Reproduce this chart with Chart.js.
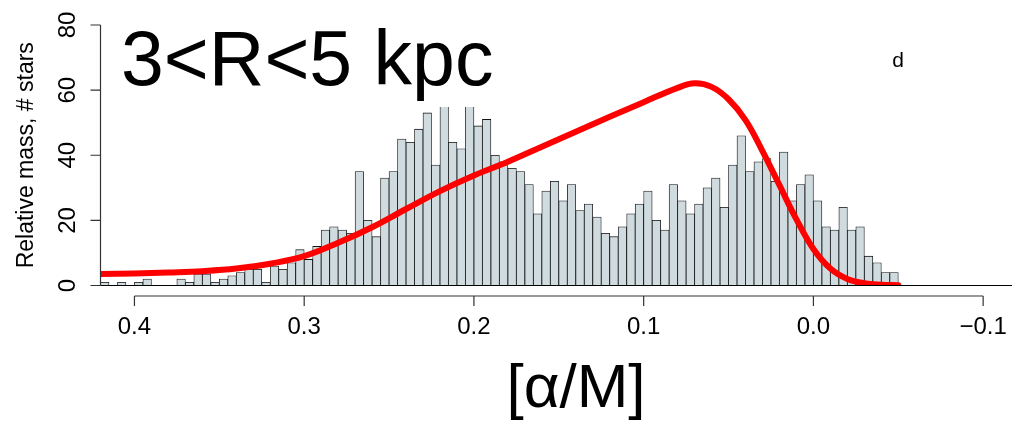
<!DOCTYPE html>
<html lang="en">
<head>
    <meta charset="UTF-8">
    <title>[α/M] histogram, 3&lt;R&lt;5 kpc</title>
    <script src="https://cdn.jsdelivr.net/npm/chart.js"></script>
    <style>
        html, body { margin: 0; padding: 0; background: #fff; }
        #wrap { width: 1012px; height: 422px; }
    </style>
</head>
<body>
    <div id="wrap"><canvas id="alphaChart"></canvas></div>
    <script>
        // histogram: 94 bins of 0.005 in [α/M], from 0.42 down to -0.05
        const binStart = 0.42;
        const binWidth = 0.005;
        const binHeights = [
            1, 0, 1, 0, 1, 2, 0, 0, 0, 2,
            1, 3.5, 3.5, 1, 2, 3, 4, 5, 5, 1,
            6, 5, 7, 11, 8, 12, 17, 18, 17, 16,
            35, 20, 15, 33, 35, 45, 44, 48, 53, 37,
            58, 44, 42, 57, 49, 51, 40, 38, 36, 35,
            31, 22, 29, 32, 26, 31, 23, 25, 21, 16,
            15, 18, 22, 25, 29, 20, 17, 31, 26, 22,
            25, 30, 33, 24, 37, 46, 35, 38, 39, 32,
            41, 26, 31, 34, 26, 18, 17, 24, 17, 18,
            9, 7, 4, 4
        ];

        // red model curve (relative mass)
        const curveAlpha = [0.42, 0.40, 0.38, 0.36, 0.34, 0.32, 0.30, 0.28, 0.26, 0.24,
                            0.22, 0.20, 0.18, 0.16, 0.14, 0.12, 0.10, 0.08, 0.07, 0.06,
                            0.05, 0.04, 0.03, 0.02, 0.01, 0.00, -0.01, -0.02, -0.03, -0.04, -0.05];
        const curveMass = [3.5, 3.7, 4.0, 4.4, 5.2, 6.7, 9.0, 13.1, 17.9, 23.5,
                           29.0, 33.8, 38.0, 42.6, 47.2, 51.8, 56.3, 60.7, 62.1, 61.0,
                           57.2, 50.8, 41.3, 30.8, 20.3, 11.2, 5.2, 2.0, 0.7, 0.25, 0.1];

        const xTicks = [0.4, 0.3, 0.2, 0.1, 0.0, -0.1];
        const yTicks = [0, 20, 40, 60, 80];

        const panelLabel = '3<R<5 kpc';
        const panelLetter = 'd';
        const xTitle = '[α/M]';
        const yTitle = 'Relative mass, # stars';

        const FONT = '"Liberation Sans", Helvetica, Arial, sans-serif';

        const histData = binHeights.map((h, i) => ({ x: binStart - binWidth * (i + 0.5), y: h }));
        const curveData = curveAlpha.map((a, i) => ({ x: a, y: curveMass[i] }));

        function tickText(v) {
            const s = Math.abs(v).toFixed(1);
            return v < 0 ? '\u2212' + s : s;
        }

        // R-style axes, labels and the white legend box
        const decorations = {
            id: 'decorations',
            afterDatasetsDraw(chart) {
                const { ctx, chartArea, scales: { x, y } } = chart;
                ctx.save();

                ctx.fillStyle = '#fff';
                ctx.fillRect(chartArea.left + 1.5, 0, 410, 107);

                ctx.fillStyle = '#000';
                ctx.textBaseline = 'alphabetic';
                ctx.textAlign = 'left';
                ctx.font = '77px ' + FONT;
                ctx.fillText(panelLabel, 121, 85);

                ctx.textAlign = 'center';
                ctx.font = '21px ' + FONT;
                ctx.fillText(panelLetter, 898, 67);

                // baseline of the histogram
                const y0 = y.getPixelForValue(0);
                ctx.strokeStyle = '#000';
                ctx.lineWidth = 1;
                ctx.beginPath();
                ctx.moveTo(chartArea.left, y0);
                ctx.lineTo(chartArea.right, y0);
                ctx.stroke();

                // x axis
                const axY = 296;
                ctx.strokeStyle = '#333';
                ctx.lineWidth = 1.2;
                ctx.beginPath();
                ctx.moveTo(x.getPixelForValue(xTicks[0]), axY);
                ctx.lineTo(x.getPixelForValue(xTicks[xTicks.length - 1]), axY);
                xTicks.forEach(v => {
                    const px = x.getPixelForValue(v);
                    ctx.moveTo(px, axY);
                    ctx.lineTo(px, axY + 10);
                });
                ctx.stroke();

                ctx.font = '24px ' + FONT;
                ctx.textAlign = 'center';
                xTicks.forEach(v => ctx.fillText(tickText(v), x.getPixelForValue(v), 334));

                // y axis
                const axX = chartArea.left;
                ctx.beginPath();
                ctx.moveTo(axX, y.getPixelForValue(yTicks[0]));
                ctx.lineTo(axX, y.getPixelForValue(yTicks[yTicks.length - 1]));
                yTicks.forEach(v => {
                    const py = y.getPixelForValue(v);
                    ctx.moveTo(axX, py);
                    ctx.lineTo(axX - 10, py);
                });
                ctx.stroke();

                yTicks.forEach(v => {
                    ctx.save();
                    ctx.translate(75, y.getPixelForValue(v));
                    ctx.rotate(-Math.PI / 2);
                    ctx.fillText(String(v), 0, 0);
                    ctx.restore();
                });

                ctx.save();
                ctx.font = '23px ' + FONT;
                ctx.translate(33, (chartArea.top + chartArea.bottom) / 2);
                ctx.rotate(-Math.PI / 2);
                ctx.fillText(yTitle, 0, 0);
                ctx.restore();

                ctx.font = '62px ' + FONT;
                ctx.fillText(xTitle, 576, 407);

                ctx.restore();
            }
        };

        const ctx = document.getElementById('alphaChart').getContext('2d');
        new Chart(ctx, {
            type: 'bar',
            data: {
                datasets: [
                    {
                        type: 'line',
                        label: 'model',
                        data: curveData,
                        borderColor: '#ff0000',
                        borderWidth: 6,
                        borderCapStyle: 'round',
                        borderJoinStyle: 'round',
                        pointRadius: 0,
                        tension: 0.4,
                        fill: false
                    },
                    {
                        type: 'bar',
                        label: 'stars',
                        data: histData,
                        backgroundColor: '#cfdbdf',
                        borderColor: '#111',
                        borderWidth: 0.8,
                        barPercentage: 1,
                        categoryPercentage: 1
                    }
                ]
            },
            options: {
                responsive: true,
                maintainAspectRatio: false,
                animation: false,
                events: [],
                layout: {
                    padding: { left: 100.5, right: 0, top: 25, bottom: 136.5 }
                },
                scales: {
                    x: {
                        type: 'linear',
                        reverse: true,
                        offset: false,
                        min: -0.117,
                        max: 0.42,
                        display: false,
                        afterBuildTicks: scale => {
                            scale.ticks = xTicks.map(v => ({ value: v }));
                        }
                    },
                    y: {
                        type: 'linear',
                        min: 0,
                        max: 80,
                        display: false
                    }
                },
                plugins: {
                    legend: { display: false },
                    tooltip: { enabled: false }
                }
            },
            plugins: [decorations]
        });
    </script>
</body>
</html>
